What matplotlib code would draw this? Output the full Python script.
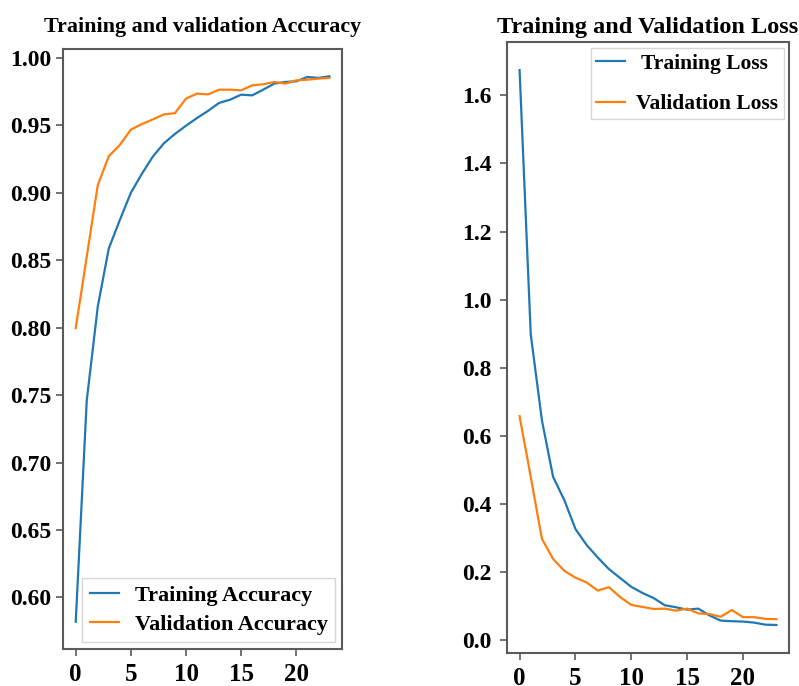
import matplotlib
matplotlib.use("Agg")
import matplotlib.pyplot as plt

epochs = list(range(24))

train_acc = [0.582, 0.746, 0.8156, 0.8587, 0.8797, 0.8999, 0.9140, 0.9268, 0.9366,
             0.9435, 0.9496, 0.9553, 0.9606, 0.9665, 0.9689, 0.9726, 0.9721, 0.9763,
             0.9808, 0.9820, 0.9825, 0.9857, 0.9850, 0.9862]
val_acc = [0.7996, 0.8525, 0.9056, 0.9270, 0.9354, 0.9467, 0.9508, 0.9543, 0.9580,
           0.9589, 0.9697, 0.9734, 0.9728, 0.9763, 0.9763, 0.9758, 0.9795, 0.9803,
           0.9820, 0.9808, 0.9832, 0.9837, 0.9845, 0.9850]

train_loss = [1.674, 0.898, 0.646, 0.480, 0.412, 0.327, 0.280, 0.243, 0.209, 0.183,
              0.157, 0.139, 0.124, 0.103, 0.097, 0.090, 0.093, 0.073, 0.058, 0.056,
              0.055, 0.052, 0.046, 0.045]
val_loss = [0.658, 0.480, 0.298, 0.239, 0.204, 0.184, 0.170, 0.146, 0.156, 0.127,
            0.104, 0.098, 0.092, 0.093, 0.087, 0.093, 0.079, 0.077, 0.069, 0.089,
            0.068, 0.068, 0.063, 0.062]

acc_title = "Training and validation Accuracy"
loss_title = "Training and Validation Loss"
acc_labels = ["Training Accuracy", "Validation Accuracy"]
loss_labels = [" Training Loss", "Validation Loss"]
acc_yticks = [0.60, 0.65, 0.70, 0.75, 0.80, 0.85, 0.90, 0.95, 1.00]
acc_yticklabels = ['0.60', '0.65', '0.70', '0.75', '0.80', '0.85', '0.90', '0.95', '1.00']
loss_yticks = [0.0, 0.2, 0.4, 0.6, 0.8, 1.0, 1.2, 1.4, 1.6]
xticks = [0, 5, 10, 15, 20]

plt.rcParams['font.family'] = ['Liberation Serif', 'DejaVu Serif']
plt.rcParams['font.weight'] = 'bold'

fig = plt.figure(figsize=(7.99, 6.86), dpi=100)
ax1 = fig.add_axes([0.0789, 0.0539, 0.3492, 0.8746])
ax2 = fig.add_axes([0.6342, 0.0485, 0.3537, 0.8898])

spine_col = '#5a5a5a'
for ax in (ax1, ax2):
    for sp in ax.spines.values():
        sp.set_color(spine_col)
        sp.set_linewidth(1.5)
    ax.tick_params(colors=spine_col, length=5, width=1.2, labelcolor='black')
    ax.tick_params(axis='y', labelsize=17)
    ax.tick_params(axis='x', labelsize=18, pad=5)

ax1.plot(epochs, train_acc, color='#1f77b4', lw=1.6, label=acc_labels[0])
ax1.plot(epochs, val_acc, color='#ff7f0e', lw=1.6, label=acc_labels[1])
ax1.set_title(acc_title, fontsize=15.8, fontweight='bold', pad=12)
ax1.set_yticks(acc_yticks)
ax1.set_yticklabels(acc_yticklabels)
ax1.set_xticks(xticks)
leg1 = ax1.legend(loc='lower right', fontsize=16, handlelength=1.3,
                  handletextpad=0.7, labelspacing=0.35, borderaxespad=0.3,
                  fancybox=False, edgecolor='#cccccc', borderpad=0.35)
leg1.get_frame().set_linewidth(1.0)

ax2.plot(epochs, train_loss, color='#1f77b4', lw=1.6, label=loss_labels[0])
ax2.plot(epochs, val_loss, color='#ff7f0e', lw=1.6, label=loss_labels[1])
ax2.set_title(loss_title, fontsize=17.5, fontweight='bold', pad=7)
ax2.set_yticks(loss_yticks)
ax2.set_xticks(xticks)
ax2.tick_params(axis='y', pad=6)
leg2 = ax2.legend(loc='upper right', fontsize=15.5, handlelength=1.35,
                  handletextpad=0.5, labelspacing=0.95, borderaxespad=0.27,
                  fancybox=False, edgecolor='#cccccc', borderpad=0.25)
leg2.get_frame().set_linewidth(1.0)

for ax in (ax1, ax2):
    for lab in ax.get_xticklabels() + ax.get_yticklabels():
        lab.set_fontweight('bold')

fig.savefig('out.png', dpi=100)
